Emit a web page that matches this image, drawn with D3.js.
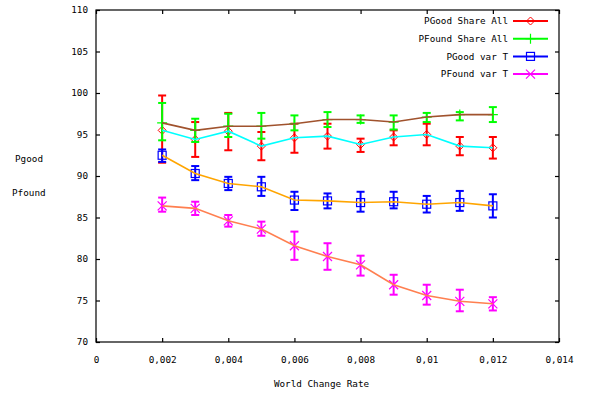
<!DOCTYPE html>
<html>
  <head>
    <meta charset="utf-8">
    <script src="https://d3js.org/d3.v7.min.js"></script>
    <style>
      body { margin: 0; background: #fff; }
      text { font-family: "DejaVu Sans Mono", monospace; font-size: 9.3px; fill: #000; }
    </style>
  </head>
  <body>
    <div id="my_dataviz"></div>
    <script>
    // x values (world change rate)
    var rates = [0.002, 0.003, 0.004, 0.005, 0.006, 0.007, 0.008, 0.009, 0.01, 0.011, 0.012];

    // PGood Share All (red errorbars, cyan line)
    var pgoodShare    = [95.5, 94.4, 95.4, 93.6, 94.6, 94.8, 93.8, 94.7, 95.0, 93.6, 93.4];
    var pgoodShareLo  = [91.6, 92.3, 93.1, 91.9, 92.8, 93.3, 92.9, 93.7, 93.7, 92.5, 92.1];
    var pgoodShareHi  = [99.7, 96.5, 97.6, 95.3, 96.3, 96.3, 94.5, 95.5, 96.3, 94.7, 94.7];

    // PFound Share All (green errorbars, sienna line)
    var pfoundShare   = [96.4, 95.5, 96.0, 96.0, 96.3, 96.8, 96.8, 96.5, 97.1, 97.4, 97.4];
    var pfoundShareLo = [94.3, 94.1, 94.7, 94.5, 95.5, 95.9, 96.4, 95.6, 96.5, 96.7, 96.5];
    var pfoundShareHi = [98.8, 96.9, 97.5, 97.6, 97.3, 97.7, 97.3, 97.3, 97.6, 97.7, 98.3];

    // PGood var T (blue errorbars, orange line)
    var pgoodVar      = [92.5, 90.3, 89.1, 88.7, 87.1, 87.0, 86.8, 86.9, 86.6, 86.8, 86.4];
    var pgoodVarLo    = [91.7, 89.5, 88.3, 87.6, 85.9, 86.1, 85.7, 86.1, 85.6, 85.8, 85.0];
    var pgoodVarHi    = [93.2, 91.2, 89.9, 89.9, 88.1, 87.9, 88.1, 88.1, 87.6, 88.2, 87.8];

    // PFound var T (magenta errorbars, coral line)
    var pfoundVar     = [86.4, 86.1, 84.6, 83.6, 81.6, 80.3, 79.3, 76.9, 75.6, 74.9, 74.6];
    var pfoundVarLo   = [85.7, 85.3, 83.9, 82.8, 79.9, 78.7, 78.0, 75.7, 74.5, 73.7, 73.8];
    var pfoundVarHi   = [87.4, 86.9, 85.3, 84.5, 83.3, 81.9, 80.4, 78.1, 76.9, 76.3, 75.4];

    var xTicks = [0, 0.002, 0.004, 0.006, 0.008, 0.01, 0.012, 0.014];
    var yTicks = [70, 75, 80, 85, 90, 95, 100, 105, 110];

    var series = [
      {name: "PGood Share All",  y: pgoodShare,  lo: pgoodShareLo,  hi: pgoodShareHi,  color: "#ff0000", line: "#00ffff", pt: "diamond"},
      {name: "PFound Share All", y: pfoundShare, lo: pfoundShareLo, hi: pfoundShareHi, color: "#00ff00", line: "#a0522d", pt: "plus"},
      {name: "PGood var T",      y: pgoodVar,    lo: pgoodVarLo,    hi: pgoodVarHi,    color: "#0000ff", line: "#ffa500", pt: "square"},
      {name: "PFound var T",     y: pfoundVar,   lo: pfoundVarLo,   hi: pfoundVarHi,   color: "#ff00ff", line: "#ff7f50", pt: "cross"}
    ];

    var W = 596, H = 396;
    var margin = {top: 10, right: 37, bottom: 54, left: 96},
      width = W - margin.left - margin.right,
      height = H - margin.top - margin.bottom;

    var svg = d3.select("#my_dataviz")
      .append("svg")
      .attr("width", W)
      .attr("height", H)
      .append("g")
      .attr("transform", "translate(" + margin.left + "," + margin.top + ")");

    var x = d3.scaleLinear().domain([0, 0.014]).range([0, width]);
    var y = d3.scaleLinear().domain([70, 110]).range([height, 0]);

    var fmtX = function (d) { return d3.format("~g")(d).replace(".", ","); };

    // axes: inward ticks on all four sides, labels on bottom and left
    svg.append("g")
      .attr("transform", "translate(0," + height + ")")
      .call(d3.axisBottom(x).tickValues(xTicks).tickSize(-4).tickPadding(14).tickFormat(fmtX))
      .call(function (g) { g.select(".domain").remove(); });
    svg.append("g")
      .call(d3.axisTop(x).tickValues(xTicks).tickSize(-4).tickFormat(""))
      .call(function (g) { g.select(".domain").remove(); });
    svg.append("g")
      .call(d3.axisLeft(y).tickValues(yTicks).tickSize(-4).tickPadding(8))
      .call(function (g) { g.select(".domain").remove(); });
    svg.append("g")
      .attr("transform", "translate(" + width + ",0)")
      .call(d3.axisRight(y).tickValues(yTicks).tickSize(-4).tickFormat(""))
      .call(function (g) { g.select(".domain").remove(); });
    svg.selectAll(".tick line").attr("stroke", "#000").attr("stroke-width", 1.2);
    svg.selectAll(".tick text").attr("font-family", null).attr("font-size", null);

    svg.append("rect")
      .attr("width", width).attr("height", height)
      .attr("fill", "none").attr("stroke", "#000").attr("stroke-width", 1.2);

    // labels
    svg.append("text").attr("x", width / 2 - 6).attr("y", height + 45)
      .attr("text-anchor", "middle").text("World Change Rate");
    svg.append("text").attr("x", -81).attr("y", 152).text("Pgood");
    svg.append("text").attr("x", -84).attr("y", 186).text("Pfound");

    function marker(g, type, cx, cy, color) {
      if (type === "diamond") {
        g.append("path").attr("d", "M" + cx + "," + (cy - 4) + "L" + (cx + 4) + "," + cy + "L" + cx + "," + (cy + 4) + "L" + (cx - 4) + "," + cy + "Z")
          .attr("fill", "none").attr("stroke", color).attr("stroke-width", 1);
      } else if (type === "plus") {
        g.append("path").attr("d", "M" + (cx - 5) + "," + cy + "H" + (cx + 5) + "M" + cx + "," + (cy - 5) + "V" + (cy + 5))
          .attr("stroke", color).attr("stroke-width", 1.2);
      } else if (type === "square") {
        g.append("rect").attr("x", cx - 4).attr("y", cy - 4).attr("width", 8).attr("height", 8)
          .attr("fill", "none").attr("stroke", color).attr("stroke-width", 1.2);
      } else {
        g.append("path").attr("d", "M" + (cx - 4.5) + "," + (cy - 4.5) + "L" + (cx + 4.5) + "," + (cy + 4.5) + "M" + (cx - 4.5) + "," + (cy + 4.5) + "L" + (cx + 4.5) + "," + (cy - 4.5))
          .attr("stroke", color).attr("stroke-width", 1.2);
      }
    }

    // errorbars with points
    series.forEach(function (s) {
      var g = svg.append("g");
      rates.forEach(function (r, i) {
        var cx = x(r);
        g.append("line").attr("x1", cx).attr("x2", cx).attr("y1", y(s.lo[i])).attr("y2", y(s.hi[i]))
          .attr("stroke", s.color).attr("stroke-width", 2);
        [s.lo[i], s.hi[i]].forEach(function (v) {
          g.append("line").attr("x1", cx - 4).attr("x2", cx + 4).attr("y1", y(v)).attr("y2", y(v))
            .attr("stroke", s.color).attr("stroke-width", 2);
        });
        marker(g, s.pt, cx, y(s.y[i]), s.color);
      });
    });

    // lines through the points
    series.forEach(function (s) {
      svg.append("path")
        .datum(s.y)
        .attr("fill", "none")
        .attr("stroke", s.line)
        .attr("stroke-width", 1.6)
        .attr("d", d3.line()
          .x(function (d, idx) { return x(rates[idx]); })
          .y(function (d) { return y(d); }));
    });

    // legend
    var legend = svg.append("g").attr("transform", "translate(" + (width - 51) + ",0)");
    series.forEach(function (s, i) {
      var ly = 11 + i * 17.7;
      legend.append("text").attr("x", 0).attr("y", ly).attr("dy", "0.35em")
        .attr("text-anchor", "end").text(s.name);
      legend.append("line").attr("x1", 5).attr("x2", 40).attr("y1", ly).attr("y2", ly)
        .attr("stroke", s.color).attr("stroke-width", 2);
      marker(legend, s.pt, 22.5, ly, s.color);
    });
    </script>
  </body>
</html>
